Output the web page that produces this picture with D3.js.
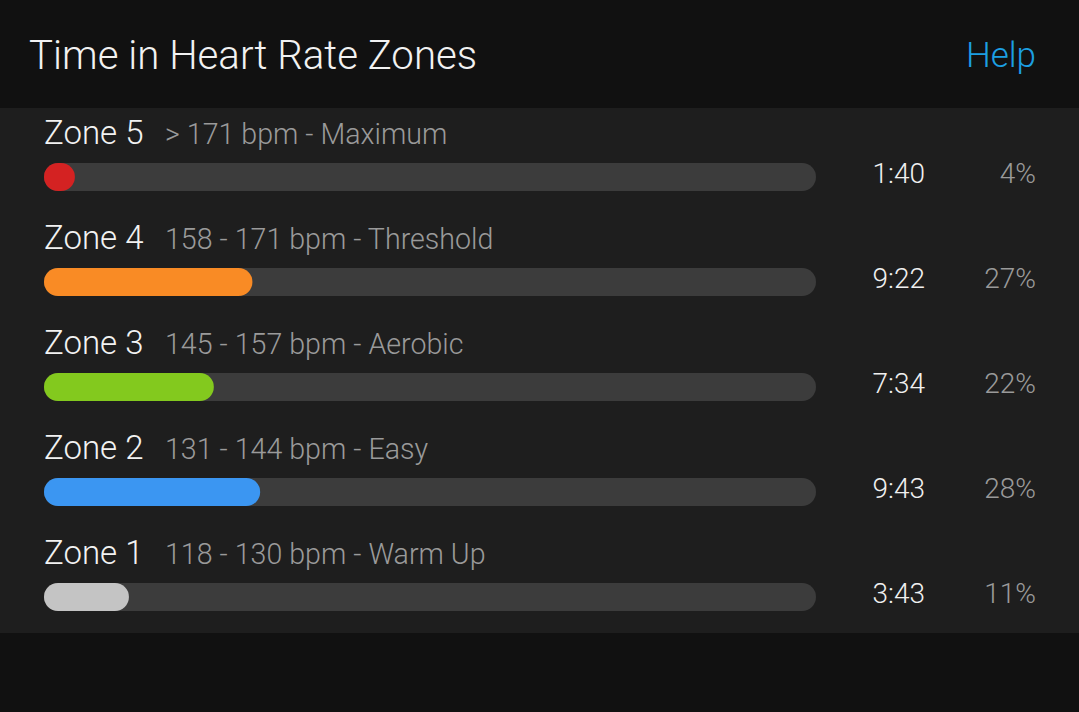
<!DOCTYPE html>
<html>
<head>
<meta charset="utf-8">
<script src="https://cdn.jsdelivr.net/npm/d3@7"></script>
<style>
  html, body { margin: 0; padding: 0; background: #111111; }
  svg { display: block; font-family: "Roboto Light", Roboto, "Open Sans", sans-serif; }
</style>
</head>
<body>
<svg id="chart" width="1079" height="712"></svg>
<script>
const zones = ["Zone 5", "Zone 4", "Zone 3", "Zone 2", "Zone 1"];
const ranges = ["> 171 bpm - Maximum", "158 - 171 bpm - Threshold", "145 - 157 bpm - Aerobic", "131 - 144 bpm - Easy", "118 - 130 bpm - Warm Up"];
const percents = [4, 27, 22, 28, 11];
const times = ["1:40", "9:22", "7:34", "9:43", "3:43"];
const colors = ["#d42222", "#f98b25", "#83c91e", "#3b96f2", "#c4c4c4"];
const title = "Time in Heart Rate Zones";
const helpLabel = "Help";

const W = 1079, H = 712;
const svg = d3.select("#chart");

svg.append("rect").attr("x", 0).attr("y", 0).attr("width", W).attr("height", H).attr("fill", "#111111");

const panelTop = 108, rowH = 105;
const y = d3.scaleBand().domain(zones).range([panelTop, panelTop + rowH * zones.length]).padding(0);
svg.append("rect").attr("x", 0).attr("y", panelTop).attr("width", W).attr("height", rowH * zones.length).attr("fill", "#1e1e1e");

svg.append("text").attr("x", 29).attr("y", 69).attr("fill", "#f2f2f2")
  .attr("font-size", 40.2).attr("font-weight", 300).text(title);
svg.append("text").attr("x", 1036).attr("y", 67).attr("text-anchor", "end").attr("fill", "#1c9fe2")
  .attr("font-size", 35).attr("font-weight", 300).text(helpLabel);

const x = d3.scaleLinear().domain([0, 100]).range([44, 816]);
const barH = 28;

const data = zones.map((z, i) => ({ zone: z, range: ranges[i], pct: percents[i], time: times[i], color: colors[i] }));

const rows = svg.selectAll("g.row").data(data).join("g").attr("class", "row")
  .attr("transform", d => `translate(0,${y(d.zone)})`);

rows.append("text").attr("x", 44).attr("y", 36).attr("fill", "#f2f2f2")
  .attr("font-size", 33).attr("font-weight", 300).text(d => d.zone);
rows.append("text").attr("x", 165).attr("y", 36).attr("fill", "#9a9a9a")
  .attr("font-size", 28.6).attr("font-weight", 300).text(d => d.range);

rows.append("rect").attr("x", x(0)).attr("y", 55).attr("width", x(100) - x(0)).attr("height", barH)
  .attr("rx", barH / 2).attr("fill", "#3c3c3c");
rows.append("rect").attr("x", x(0)).attr("y", 55)
  .attr("width", d => Math.max(barH, x(d.pct) - x(0))).attr("height", barH)
  .attr("rx", barH / 2).attr("fill", d => d.color);

rows.append("text").attr("x", 925).attr("y", 75).attr("text-anchor", "end").attr("fill", "#f0f0f0")
  .attr("font-size", 28).attr("font-weight", 300).text(d => d.time);
rows.append("text").attr("x", 1036).attr("y", 75).attr("text-anchor", "end").attr("fill", "#9a9a9a")
  .attr("font-size", 28).attr("font-weight", 300).text(d => d.pct + "%");
</script>
</body>
</html>
